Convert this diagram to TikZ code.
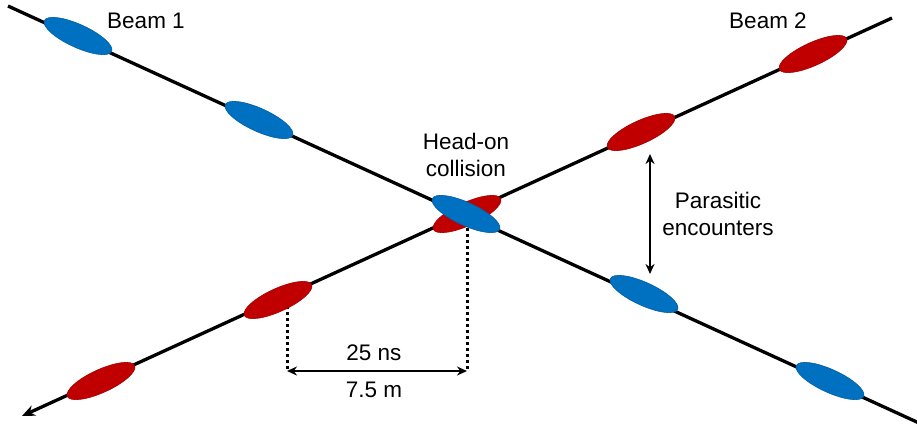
\documentclass[tikz,border=0pt]{standalone}
\usepackage{fontspec}
\setmainfont{Liberation Sans}
\usetikzlibrary{arrows.meta,shapes.geometric}
\definecolor{bblue}{RGB}{0,112,192}
\definecolor{bred}{RGB}{192,0,0}
\begin{document}
\begin{tikzpicture}[x=1pt,y=-1pt,
  beam/.style={line width=3.3pt},
  bunch/.style={ellipse, minimum width=74pt, minimum height=23pt, inner sep=0pt},
  bluebunch/.style={bunch, fill=bblue, draw=bblue!85!black, line width=0.6pt, rotate=-24.6},
  redbunch/.style={bunch, fill=bred, draw=bred!85!black, line width=0.6pt, rotate=24.6},
  lbl/.style={font=\fontsize{22.5}{27}\selectfont, align=center, inner sep=0pt},
  dotline/.style={line width=3pt, dash pattern=on 3pt off 3pt},
  dim/.style={line width=2.3pt, {Stealth[length=10pt,width=9pt]}-{Stealth[length=10pt,width=9pt]}}
]
\useasboundingbox (0,0) rectangle (917,426);
% beam axes
\coordinate (b1s) at (8,6);
\coordinate (b1e) at (919,423);
\coordinate (b2s) at (892,18);
\coordinate (b2e) at (22,416);
\draw[beam] (b1s) -- (b1e);
\draw[beam, -{Stealth[length=13pt,width=11pt]}] (b2s) -- (b2e);
% dimension lines
\coordinate (d1t) at (287,306);
\coordinate (d1b) at (287,371);
\coordinate (d2t) at (467,228);
\coordinate (d2b) at (467,371);
\draw[dotline] (d1t) -- (d1b);
\draw[dotline] (d2t) -- (d2b);
\draw[dim] (d1b) -- (d2b);
% red bunches (beam 2)
\node[redbunch] (r1) at (101,381) {};
\node[redbunch] (r2) at (278,300) {};
\node[redbunch] (r3) at (467,214) {};
\node[redbunch] (r4) at (641,132) {};
\node[redbunch] (r5) at (813,54) {};
% blue bunches (beam 1)
\node[bluebunch] (u1) at (78,36) {};
\node[bluebunch] (u2) at (259,120) {};
\node[bluebunch] (u3) at (466,214) {};
\node[bluebunch] (u4) at (644,294) {};
\node[bluebunch] (u5) at (830,381) {};
% parasitic arrow
\coordinate (pt) at (650,154);
\coordinate (pb) at (650,274);
\draw[dim] (pt) -- (pb);
% labels
\node[lbl] (beam1) at (146,21) {Beam 1};
\node[lbl] (beam2) at (768,21) {Beam 2};
\node[lbl] (head) at (466,155) {Head-on\\collision};
\node[lbl] (para) at (718,214) {Parasitic\\encounters};
\node[lbl] (ns) at (374,353) {25 ns};
\node[lbl] (m) at (374,390) {7.5 m};
\end{tikzpicture}
\end{document}
